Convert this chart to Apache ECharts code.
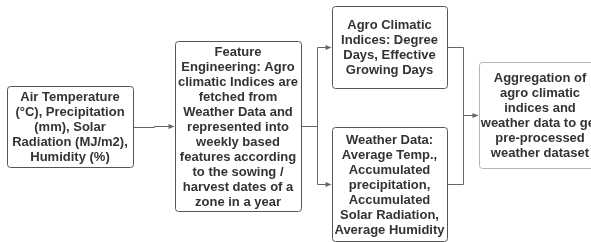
<!DOCTYPE html>
<html style="height: 100%">
<head>
  <meta charset="utf-8">
</head>
<body style="height: 100%; margin: 0; background: #fff">
  <div id="container" style="width: 591px; height: 242px"></div>
  <script type="text/javascript" src="https://cdn.jsdelivr.net/npm/echarts@6/dist/echarts.min.js"></script>
  <script type="text/javascript">
    // box texts, one line per array entry
    var labels = [
        ['Air Temperature', '(°C), Precipitation', '(mm), Solar', 'Radiation (MJ/m2),', 'Humidity (%)'],
        ['Feature', 'Engineering: Agro', 'climatic Indices are', 'fetched from', 'Weather Data and',
         'represented into', 'weekly based', 'features according', 'to the sowing /', 'harvest dates of a', 'zone in a year'],
        ['Agro Climatic', 'Indices: Degree', 'Days, Effective', 'Growing Days'],
        ['Weather Data:', 'Average Temp.,', 'Accumulated', 'precipitation,', 'Accumulated', 'Solar Radiation,', 'Average Humidity'],
        ['Aggregation of', 'agro climatic', 'indices and', 'weather data to get', 'pre-processed', 'weather dataset']
    ];
    // box extents [x0, y0, x1, y1] on the hidden axes
    var boxes = [
        [7, 86, 133, 167],
        [175, 41, 301, 211],
        [332, 6, 447, 88],
        [332, 127, 447, 241],
        [479, 62, 601, 168]
    ];
    var borderColors = ['#555', '#555', '#555', '#555', '#b5b5b5'];
    // connections [from, to]
    var links = [[0, 1], [1, 2], [1, 3], [2, 4], [3, 4]];

    var dom = document.getElementById("container");
    var myChart = echarts.init(dom);

    function renderBox(params, api) {
        var b = boxes[api.value(0)];
        var p0 = api.coord([b[0], b[1]]);
        var p1 = api.coord([b[2], b[3]]);
        return {
            type: 'group',
            children: [{
                type: 'rect',
                shape: { x: p0[0] + 0.5, y: p0[1] + 0.5, width: p1[0] - p0[0], height: p1[1] - p0[1], r: 3 },
                style: { fill: '#fff', stroke: borderColors[api.value(0)], lineWidth: 1 }
            }, {
                type: 'text',
                style: {
                    text: labels[api.value(0)].join('\n'),
                    x: (p0[0] + p1[0]) / 2,
                    y: (p0[1] + p1[1]) / 2 + 1,
                    align: 'center',
                    verticalAlign: 'middle',
                    font: 'bold 13px "Liberation Sans", Arial, sans-serif',
                    lineHeight: 15,
                    fill: '#333'
                }
            }]
        };
    }

    function renderLink(params, api) {
        var a = boxes[links[api.value(0)][0]];
        var b = boxes[links[api.value(0)][1]];
        var sy = (a[1] + a[3]) / 2, ty = (b[1] + b[3]) / 2;
        var mx = (a[2] + b[0]) / 2;
        var pts = [[a[2], sy], [mx, sy], [mx, ty], [b[0], ty]].map(function (p) {
            var c = api.coord(p);
            return [Math.round(c[0]) + 0.5, Math.round(c[1]) + 0.5];
        });
        var end = pts[3];
        var children = [{
            type: 'polyline',
            shape: { points: pts.slice(0, 3).concat([[end[0] - 2, end[1]]]) },
            style: { stroke: '#666', lineWidth: 1, fill: null }
        }];
        // only one arrowhead per target
        var last = true;
        for (var i = api.value(0) + 1; i < links.length; i++) {
            if (links[i][1] === links[api.value(0)][1]) last = false;
        }
        if (last || links[api.value(0)][1] !== 4) {
            children.push({
                type: 'polygon',
                shape: { points: [[end[0] - 1, end[1]], [end[0] - 7, end[1] - 2.5], [end[0] - 7, end[1] + 2.5]] },
                style: { fill: '#666' }
            });
        }
        return { type: 'group', children: children };
    }

    var option = {
        animation: false,
        grid: { left: 0, right: 0, top: 0, bottom: 0 },
        xAxis: { type: 'value', min: 0, max: 591, show: false },
        yAxis: { type: 'value', min: 0, max: 242, inverse: true, show: false },
        series: [{
            type: 'custom',
            renderItem: renderLink,
            data: links.map(function (l, i) { return [i]; }),
            silent: true
        }, {
            type: 'custom',
            renderItem: renderBox,
            data: boxes.map(function (b, i) { return [i]; }),
            silent: true
        }]
    };
    myChart.setOption(option);
  </script>
</body>
</html>
